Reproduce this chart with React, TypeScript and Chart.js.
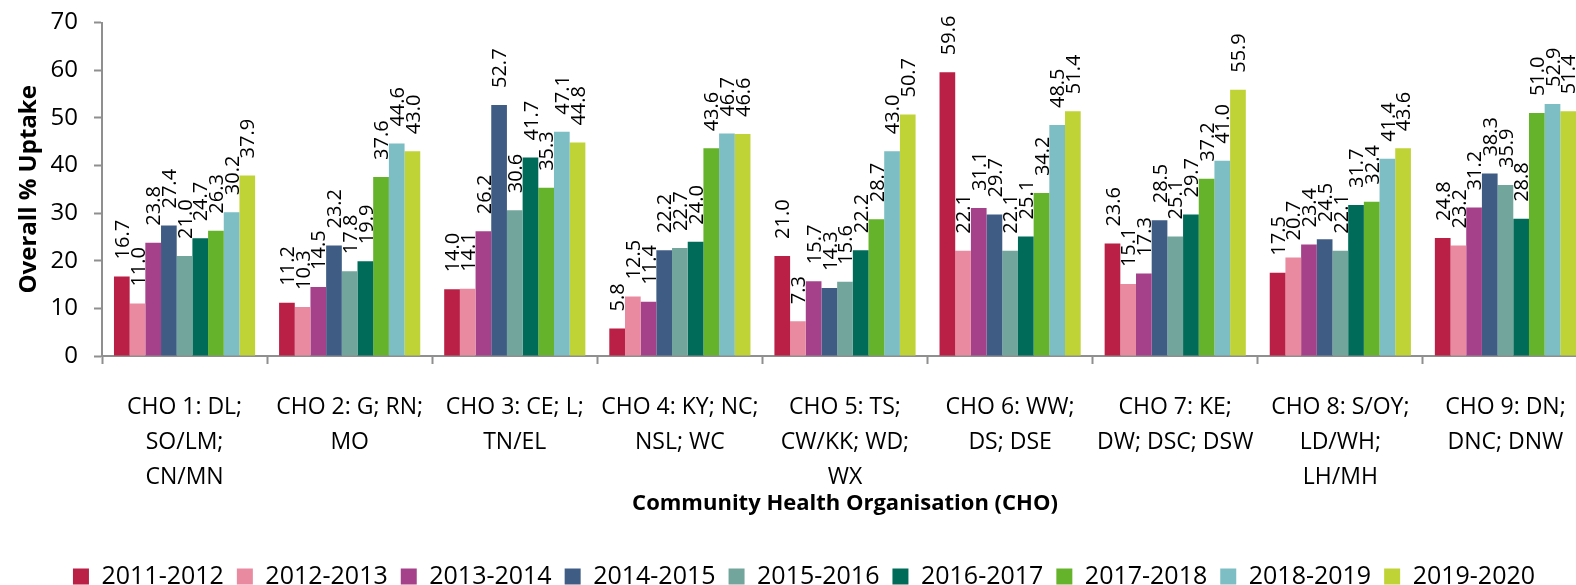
import React, { useEffect, useRef } from "react";
import { Chart, registerables } from "chart.js";

Chart.register(...registerables);

const categories: string[][] = [
  ["CHO 1: DL;", "SO/LM;", "CN/MN"],
  ["CHO 2: G; RN;", "MO"],
  ["CHO 3: CE; L;", "TN/EL"],
  ["CHO 4: KY; NC;", "NSL; WC"],
  ["CHO 5: TS;", "CW/KK; WD;", "WX"],
  ["CHO 6: WW;", "DS; DSE"],
  ["CHO 7: KE;", "DW; DSC; DSW"],
  ["CHO 8: S/OY;", "LD/WH;", "LH/MH"],
  ["CHO 9: DN;", "DNC; DNW"],
];

const seriesNames = [
  "2011-2012",
  "2012-2013",
  "2013-2014",
  "2014-2015",
  "2015-2016",
  "2016-2017",
  "2017-2018",
  "2018-2019",
  "2019-2020",
];

const seriesColors = [
  "#BA1F45",
  "#E98AA0",
  "#A4418A",
  "#3F5D84",
  "#72A59C",
  "#006B58",
  "#65B22B",
  "#7DBDC4",
  "#C0D336",
];

const v2011 = [16.7, 11.2, 14.0, 5.8, 21.0, 59.6, 23.6, 17.5, 24.8];
const v2012 = [11.0, 10.3, 14.1, 12.5, 7.3, 22.1, 15.1, 20.7, 23.2];
const v2013 = [23.8, 14.5, 26.2, 11.4, 15.7, 31.1, 17.3, 23.4, 31.2];
const v2014 = [27.4, 23.2, 52.7, 22.2, 14.3, 29.7, 28.5, 24.5, 38.3];
const v2015 = [21.0, 17.8, 30.6, 22.7, 15.6, 22.1, 25.1, 22.1, 35.9];
const v2016 = [24.7, 19.9, 41.7, 24.0, 22.2, 25.1, 29.7, 31.7, 28.8];
const v2017 = [26.3, 37.6, 35.3, 43.6, 28.7, 34.2, 37.2, 32.4, 51.0];
const v2018 = [30.2, 44.6, 47.1, 46.7, 43.0, 48.5, 41.0, 41.4, 52.9];
const v2019 = [37.9, 43.0, 44.8, 46.6, 50.7, 51.4, 55.9, 43.6, 51.4];

const seriesValues = [v2011, v2012, v2013, v2014, v2015, v2016, v2017, v2018, v2019];

const yTicks = [0, 10, 20, 30, 40, 50, 60, 70];

const FONT = "'Open Sans', 'Noto Sans', 'DejaVu Sans', sans-serif";

const valueLabels = {
  id: "valueLabels",
  afterDatasetsDraw(chart: any) {
    const ctx = chart.ctx;
    ctx.save();
    const fs = 20;
    ctx.font = `${fs}px ${FONT}`;
    ctx.fillStyle = "#000";
    ctx.textAlign = "left";
    ctx.textBaseline = "alphabetic";
    chart.data.datasets.forEach((ds: any, di: number) => {
      const meta = chart.getDatasetMeta(di);
      meta.data.forEach((el: any, i: number) => {
        ctx.save();
        ctx.translate(el.x, el.y - 17);
        ctx.rotate(-Math.PI / 2);
        ctx.fillText(Number(ds.data[i]).toFixed(1), 0, fs * 0.36);
        ctx.restore();
      });
    });
    ctx.restore();
  },
};

export default function App() {
  const ref = useRef<HTMLCanvasElement | null>(null);
  useEffect(() => {
    if (!ref.current) return;
    const chart = new Chart(ref.current, {
      type: "bar",
      data: {
        labels: categories,
        datasets: seriesNames.map((name, i) => ({
          label: name,
          data: seriesValues[i],
          backgroundColor: seriesColors[i],
          borderWidth: 0,
          barPercentage: 1,
          categoryPercentage: 0.855,
        })),
      },
      options: {
        responsive: false,
        animation: false,
        devicePixelRatio: 1,
        layout: { padding: { top: 15, right: 12, left: 20, bottom: -14 } },
        plugins: {
          tooltip: { enabled: false },
          legend: {
            position: "bottom",
            labels: {
              boxWidth: 16,
              boxHeight: 16,
              padding: 13,
              color: "#000",
              font: { family: FONT, size: 25 },
            },
          },
        },
        scales: {
          x: {
            afterFit: (scale: any) => {
              scale.height = 195;
            },
            grid: {
              offset: true,
              drawOnChartArea: false,
              tickLength: 8,
              color: "#8f8f8f",
              tickWidth: 2,
            },
            border: { color: "#8f8f8f", width: 2 },
            ticks: {
              color: "#000",
              padding: 26,
              maxRotation: 0,
              autoSkip: false,
              font: { family: FONT, size: 23, lineHeight: 35 / 23 },
            },
            title: {
              display: true,
              text: "Community Health Organisation (CHO)",
              color: "#000",
              font: { family: FONT, size: 22, weight: "bold", lineHeight: 1 },
              padding: { top: 0, bottom: 36 },
            },
          },
          y: {
            min: 0,
            max: 70,
            afterBuildTicks: (scale: any) => {
              scale.ticks = yTicks.map((v) => ({ value: v }));
            },
            afterFit: (scale: any) => {
              scale.width = 82;
            },
            grid: {
              drawOnChartArea: false,
              tickLength: 8,
              color: "#8f8f8f",
              tickWidth: 2,
            },
            border: { color: "#8f8f8f", width: 2 },
            ticks: {
              color: "#000",
              padding: 16,
              font: { family: FONT, size: 24, lineHeight: 0.55 },
            },
            title: {
              display: true,
              text: "Overall % Uptake",
              color: "#000",
              font: { family: FONT, size: 24, weight: "bold" },
              padding: { top: -5, bottom: 0 },
            },
          },
        },
      },
      plugins: [valueLabels],
    });
    return () => chart.destroy();
  }, []);
  return (
    <div style={{ position: "fixed", left: 0, top: 0, width: 1576, height: 585, overflow: "hidden", background: "#fff" }}>
      <canvas ref={ref} width={1600} height={585} style={{ width: 1600, height: 585, display: "block" }} />
    </div>
  );
}
